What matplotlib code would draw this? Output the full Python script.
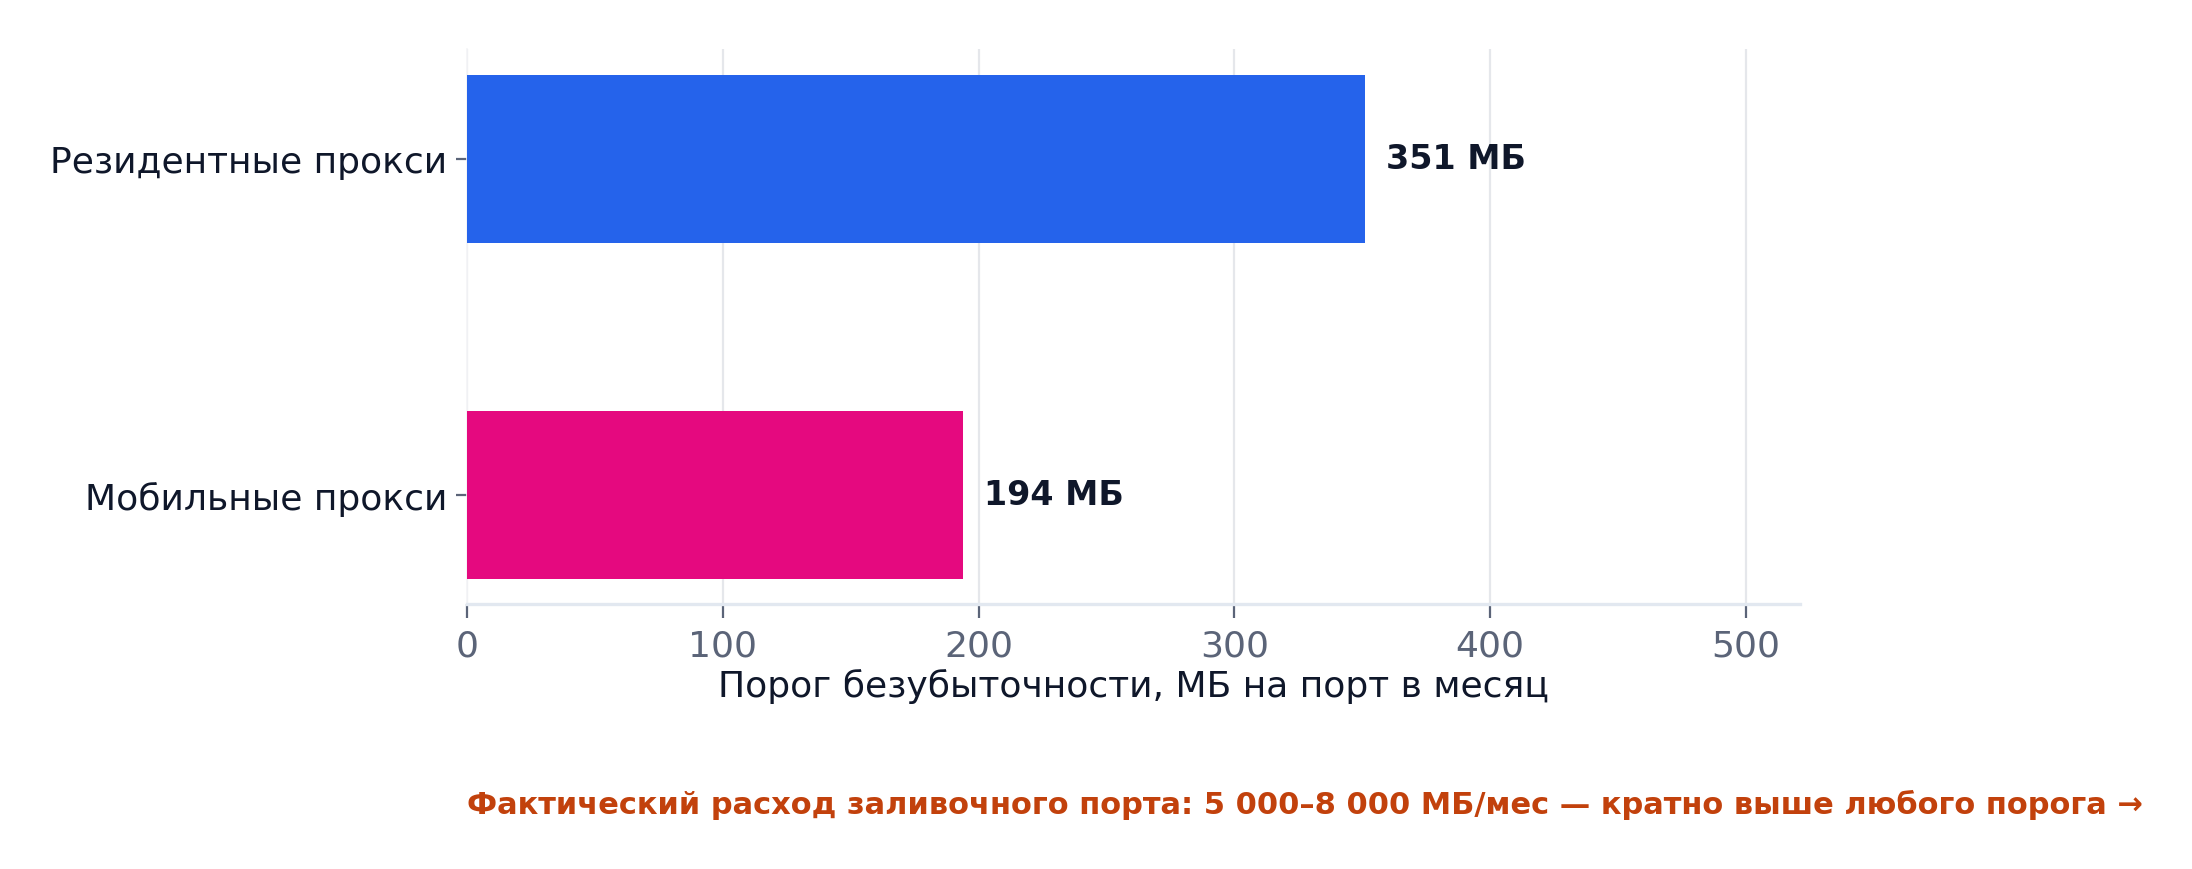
import matplotlib.pyplot as plt

categories = ['Мобильные прокси', 'Резидентные прокси']
values = [194, 351]
colors = ['#E5097F', '#2563EB']
value_labels = ['194 МБ', '351 МБ']
xticks = [0, 100, 200, 300, 400, 500]
note = 'Фактический расход заливочного порта: 5 000–8 000 МБ/мес — кратно выше любого порога →'

plt.rcParams['font.family'] = ['DejaVu Sans']

fig = plt.figure(figsize=(10.96, 4.35), dpi=200)
ax = fig.add_axes([0.213, 0.305, 0.608, 0.637])

ypos = list(range(len(categories)))
ax.barh(ypos, values, height=0.5, color=colors, zorder=3)

for y, v, lab in zip(ypos, values, value_labels):
    ax.annotate(lab, (v, y), xytext=(7.5, 0), textcoords='offset points',
                va='center', ha='left', fontsize=12, fontweight='bold',
                color='#0F172A', zorder=4)

ax.set_yticks(ypos)
ax.set_yticklabels(categories, fontsize=13, color='#0F172A')
ax.set_xticks(xticks)
ax.set_xticklabels([str(t) for t in xticks], fontsize=13, color='#5B6478')
ax.set_xlim(0, 521)
ax.set_ylim(-0.324, 1.326)
ax.set_xlabel('Порог безубыточности, МБ на порт в месяц', fontsize=13,
              color='#0F172A', labelpad=2)

ax.grid(axis='x', color='#E5E7EB', linewidth=0.8, zorder=0)
ax.tick_params(axis='x', length=5, width=0.8, color='#5B6478', pad=4)
ax.tick_params(axis='y', length=4, width=0.8, color='#5B6478', pad=3)
for s in ['top', 'right']:
    ax.spines[s].set_visible(False)
ax.spines['left'].set_color('#F3F4F6')
ax.spines['left'].set_linewidth(0.6)
ax.spines['bottom'].set_color('#E2E8F0')
ax.spines['bottom'].set_linewidth(1.2)

fig.text(0.213, 0.075, note, fontsize=11, fontweight='bold', color='#C2410C',
         ha='left', va='center')

fig.savefig('out.png', dpi=200, facecolor='white')
